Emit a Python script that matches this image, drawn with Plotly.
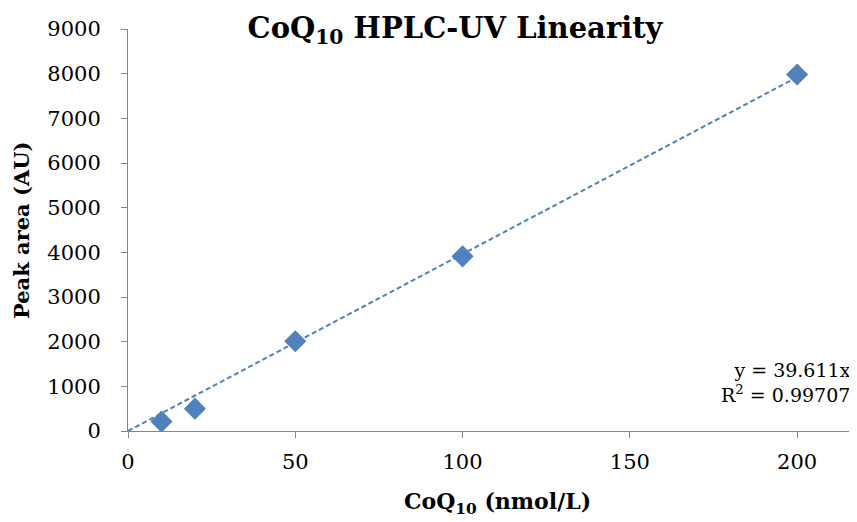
import plotly.graph_objects as go

conc = [10, 20, 50, 100, 200]
area = [210, 500, 2010, 3910, 7980]
slope = 39.611
r2 = 0.99707
trend_x = [0, 200]
trend_y = [slope * v for v in trend_x]
x_ticks = [0, 50, 100, 150, 200]
y_ticks = [0, 1000, 2000, 3000, 4000, 5000, 6000, 7000, 8000, 9000]

FONT = "DejaVu Serif"
BLUE = "#4F81BD"
AXIS = "#868686"

# page body has an 8px margin; figure is sized to fill the rest of the window
OFF = 8
W, H = 857 - OFF, 522 - OFF
L, T = 128 - OFF, 29 - OFF
R = 857 - 856
B = 522 - 431
PW, PH = W - L - R, H - T - B

fig = go.Figure()
fig.add_trace(go.Scatter(x=trend_x, y=trend_y, mode="lines",
                         line=dict(color=BLUE, width=2, dash="5px,3px"),
                         showlegend=False, hoverinfo="skip"))
fig.add_trace(go.Scatter(x=conc, y=area, mode="markers",
                         marker=dict(symbol="diamond", size=17, color=BLUE,
                                     line=dict(width=0)),
                         showlegend=False))

fig.update_layout(
    width=W, height=H,
    margin=dict(l=L, r=R, t=T, b=B, autoexpand=False),
    paper_bgcolor="white", plot_bgcolor="white",
    font=dict(family=FONT, color="black", size=21),
    title=dict(text="<b>CoQ<sub>10</sub> HPLC-UV Linearity</b>",
               x=(455 - OFF) / W, xanchor="center", y=1 - (28 - OFF) / H, yanchor="middle",
               font=dict(family=FONT, size=29, color="black")),
    xaxis=dict(range=[0, 217.6], tickvals=x_ticks, showgrid=False, zeroline=False,
               showline=True, linecolor=AXIS, linewidth=1, automargin=False,
               ticks="outside", ticklen=6, tickcolor=AXIS, ticklabelstandoff=6,
               tickfont=dict(size=21, family=FONT)),
    yaxis=dict(range=[0, 9000], tickvals=y_ticks, showgrid=False, zeroline=False,
               showline=True, linecolor=AXIS, linewidth=1, automargin=False,
               ticks="outside", ticklen=6, tickcolor=AXIS, ticklabelstandoff=16,
               tickfont=dict(size=21, family=FONT)),
    annotations=[
        dict(text=f"y = {slope}x<br>R<sup>2</sup> = {r2}", x=1 - 3 / PW, xref="paper",
             xanchor="right", y=1080, yref="y", yanchor="middle",
             align="right", showarrow=False, font=dict(size=19, family=FONT)),
        dict(text="<b>CoQ<sub>10</sub> (nmol/L)</b>", x=(497 - 128) / PW, xref="paper",
             y=(431 - 503) / PH, yref="paper", xanchor="center", yanchor="middle",
             showarrow=False, font=dict(size=22, family=FONT)),
        dict(text="<b>Peak area (AU)</b>", x=(21 - 128) / PW, xref="paper",
             y=(431 - 230) / PH, yref="paper", xanchor="center", yanchor="middle",
             textangle=-90, showarrow=False, font=dict(size=21, family=FONT)),
    ],
)

fig.write_html("out.html")
